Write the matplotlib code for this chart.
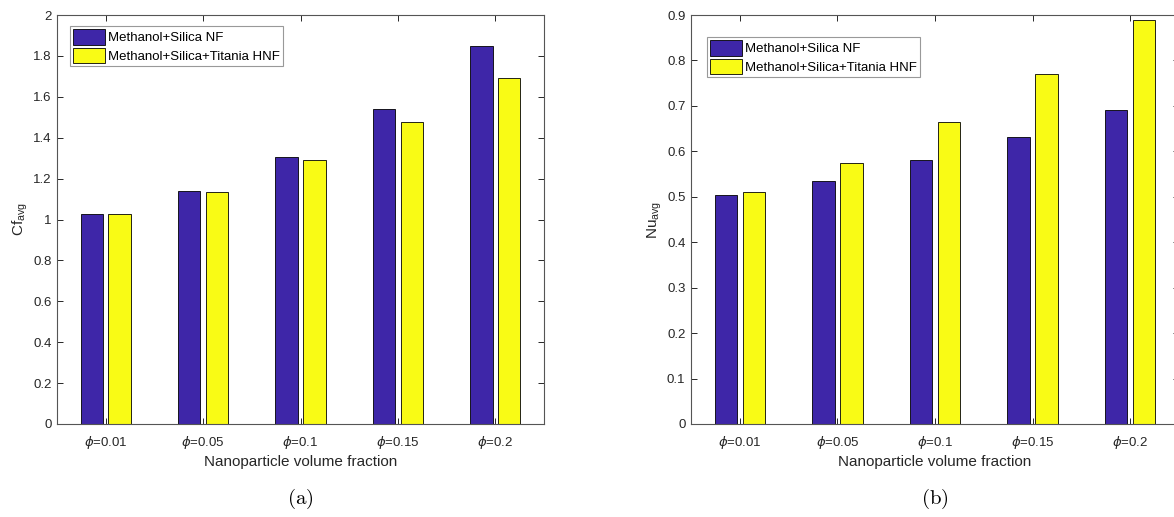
import matplotlib.pyplot as plt
import numpy as np
from matplotlib.ticker import FormatStrFormatter

plt.rcParams['font.family'] = ['Liberation Sans', 'DejaVu Sans']
plt.rcParams['mathtext.default'] = 'regular'

# Data
groups = [r'$\it{\phi}$=0.01', r'$\it{\phi}$=0.05', r'$\it{\phi}$=0.1',
          r'$\it{\phi}$=0.15', r'$\it{\phi}$=0.2']
series_names = ['Methanol+Silica NF', 'Methanol+Silica+Titania HNF']
cf_nf = [1.026, 1.139, 1.308, 1.538, 1.847]
cf_hnf = [1.026, 1.136, 1.293, 1.477, 1.690]
nu_nf = [0.503, 0.535, 0.581, 0.632, 0.690]
nu_hnf = [0.510, 0.574, 0.665, 0.770, 0.889]

colors = ['#3E26A8', '#F9FB15']
axis_col = '#262626'

fig = plt.figure(figsize=(11.74, 5.17), dpi=100)
ax_a = fig.add_axes([57 / 1174, 93 / 517, 487 / 1174, 409 / 517])
ax_b = fig.add_axes([691 / 1174, 93 / 517, 488 / 1174, 409 / 517])


def draw_panel(ax, nf, hnf, ylim, ystep, ylabel, tag, leg_anchor):
    x = np.arange(1, len(groups) + 1)
    offset = 0.143
    width = 0.229
    ax.bar(x - offset, nf, width, color=colors[0], edgecolor='black',
           linewidth=0.6, label=series_names[0])
    ax.bar(x + offset, hnf, width, color=colors[1], edgecolor='black',
           linewidth=0.6, label=series_names[1])
    ax.set_xlim(0.5, 5.5)
    ax.set_ylim(*ylim)
    ax.set_xticks(x)
    ax.set_xticklabels(groups)
    ax.set_yticks(np.arange(0, ylim[1] + 1e-9, ystep))
    ax.yaxis.set_major_formatter(FormatStrFormatter('%g'))
    ax.tick_params(direction='in', length=4, width=0.7, colors=axis_col,
                   labelsize=9.5, top=True, right=True)
    ax.tick_params(axis='x', pad=7)
    ax.tick_params(axis='y', pad=4)
    for s in ax.spines.values():
        s.set_color('#555555')
        s.set_linewidth(0.8)
    ax.set_xlabel('Nanoparticle volume fraction', fontsize=11, color=axis_col,
                  labelpad=3)
    ax.set_ylabel(ylabel, fontsize=11, color=axis_col, labelpad=2)
    leg = ax.legend(loc='upper left', bbox_to_anchor=leg_anchor, fontsize=9.5,
                    fancybox=False, framealpha=1, edgecolor='#999999',
                    handlelength=2.4, handleheight=1.4, handletextpad=0.2,
                    labelspacing=0.25, borderpad=0.25, borderaxespad=0)
    leg.get_frame().set_linewidth(0.8)
    ax.text(0.5, -0.183, tag, transform=ax.transAxes, ha='center', va='center',
            fontsize=15, math_fontfamily='cm')


draw_panel(ax_a, cf_nf, cf_hnf, (0, 2), 0.2, r'Cf$_{avg}$', r'$\mathrm{(a)}$',
           (0.027, 0.973))
draw_panel(ax_b, nu_nf, nu_hnf, (0, 0.9), 0.1, r'Nu$_{avg}$', r'$\mathrm{(b)}$',
           (0.033, 0.946))

fig.savefig('out.png', dpi=100)
